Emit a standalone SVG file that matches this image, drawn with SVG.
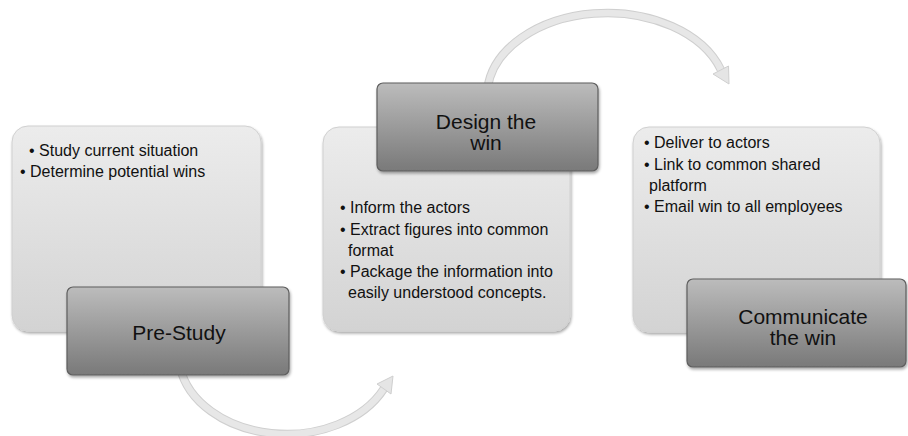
<svg xmlns="http://www.w3.org/2000/svg" width="908" height="436" viewBox="0 0 908 436">
<defs>
<linearGradient id="lg" x1="0" y1="0" x2="0" y2="1">
<stop offset="0" stop-color="#ececec"/>
<stop offset="1" stop-color="#d3d3d3"/>
</linearGradient>
<linearGradient id="dg" x1="0" y1="0" x2="0" y2="1">
<stop offset="0" stop-color="#bcbcbc"/>
<stop offset="1" stop-color="#797979"/>
</linearGradient>
<filter id="sh" x="-5%" y="-5%" width="115%" height="120%">
<feGaussianBlur in="SourceAlpha" stdDeviation="1.5"/>
<feOffset dx="1" dy="2" result="b"/>
<feComponentTransfer><feFuncA type="linear" slope="0.35"/></feComponentTransfer>
<feMerge><feMergeNode/><feMergeNode in="SourceGraphic"/></feMerge>
</filter>
</defs>
<style>
.light{fill:url(#lg);stroke:#d0d0d0;stroke-width:1}
.dark{fill:url(#dg);stroke:#5e5e5e;stroke-width:1.2}
.bt{font-family:"Liberation Sans",Arial,sans-serif;font-size:16px;fill:#111}
.tt{font-family:"Liberation Sans",Arial,sans-serif;font-size:21px;fill:#111;text-anchor:middle}
.arcO{fill:none;stroke:#cfcfcf;stroke-width:8.5}
.arcI{fill:none;stroke:#e7e7e7;stroke-width:6.5}
.head{fill:#e5e5e5;stroke:#cfcfcf;stroke-width:1}
</style>
<rect width="908" height="436" fill="#ffffff"/>
<g id="connectors">
<path class="arcO" d="M487.6,88 A120,83 0 0 1 721,70"/>
<path class="arcI" d="M487.6,88 A120,83 0 0 1 721,70"/>
<polygon class="head" points="728.5,66 729,84 713,74"/>
<path class="arcO" d="M180,367 A108,80 0 0 0 384,388.6"/>
<path class="arcI" d="M180,367 A108,80 0 0 0 384,388.6"/>
<polygon class="head" points="393,376 391,394 377,384"/>
</g>
<g id="prestudy-detail">
<rect class="light" x="12" y="126" width="249" height="205" rx="16" filter="url(#sh)"/>
<text class="bt" x="29" y="156">• Study current situation</text>
<text class="bt" x="20" y="177">• Determine potential wins</text>
</g>
<g id="prestudy">
<rect class="dark" x="67" y="287" width="222" height="88" rx="6" filter="url(#sh)"/>
<text class="tt" x="179" y="340">Pre-Study</text>
</g>
<g id="design-detail">
<rect class="light" x="323" y="127" width="247" height="204" rx="16" filter="url(#sh)"/>
<text class="bt" x="340" y="213">• Inform the actors</text>
<text class="bt" x="340" y="235">• Extract figures into common</text>
<text class="bt" x="348" y="256">format</text>
<text class="bt" x="340" y="277">• Package the information into</text>
<text class="bt" x="348" y="298">easily understood concepts.</text>
</g>
<g id="design">
<rect class="dark" x="377" y="83" width="221" height="88" rx="6" filter="url(#sh)"/>
<text class="tt" x="486" y="129">Design the</text>
<text class="tt" x="486" y="150">win</text>
</g>
<g id="communicate-detail">
<rect class="light" x="633" y="127" width="247" height="205" rx="16" filter="url(#sh)"/>
<text class="bt" x="644" y="148">• Deliver to actors</text>
<text class="bt" x="644" y="170">• Link to common shared</text>
<text class="bt" x="649" y="191">platform</text>
<text class="bt" x="644" y="212">• Email win to all employees</text>
</g>
<g id="communicate">
<rect class="dark" x="687" y="279" width="219" height="88" rx="6" filter="url(#sh)"/>
<text class="tt" x="803" y="324">Communicate</text>
<text class="tt" x="803" y="345">the win</text>
</g>
</svg>
